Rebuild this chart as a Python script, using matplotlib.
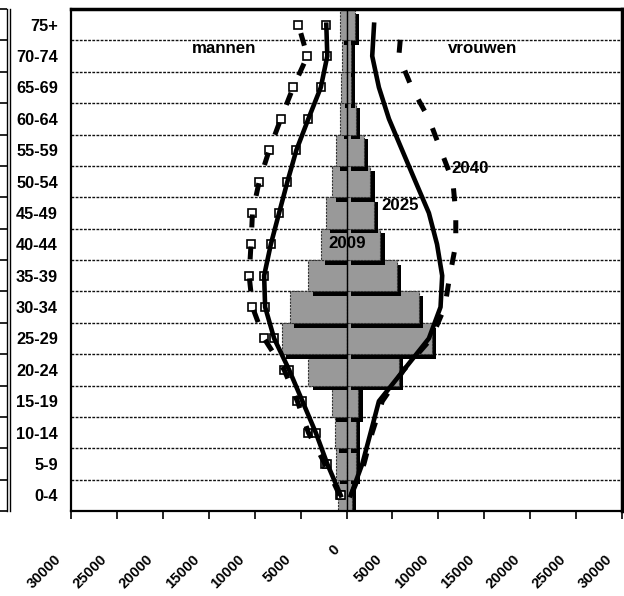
import numpy as np
import matplotlib
matplotlib.use("Agg")
import matplotlib.pyplot as plt
from matplotlib import patheffects, font_manager
from matplotlib.transforms import ScaledTranslation

# smal vet lettertype als het er is, anders Liberation Sans iets kleiner
namen = {f.name for f in font_manager.fontManager.ttflist}
if 'Liberation Sans Narrow' in namen:
    plt.rcParams['font.family'] = ['Liberation Sans Narrow', 'DejaVu Sans']
    schaal = 1.0
else:
    plt.rcParams['font.family'] = ['Liberation Sans', 'DejaVu Sans']
    schaal = 0.84
plt.rcParams['font.weight'] = 'bold'

# leeftijdsklassen, van onder naar boven
leeftijd = ['0-4', '5-9', '10-14', '15-19', '20-24', '25-29', '30-34', '35-39',
            '40-44', '45-49', '50-54', '55-59', '60-64', '65-69', '70-74', '75+']

# 2009 (balken)
mannen_2009 = [900, 1180, 1250, 1550, 4150, 7000, 6150, 4150, 2800, 2200, 1600, 1180, 700, 630, 450, 700]
vrouwen_2009 = [570, 1000, 1070, 1300, 5700, 9300, 7850, 5500, 3700, 3000, 2600, 1900, 1000, 450, 450, 900]

# 2025 (doorgetrokken lijn)
mannen_2025 = [630, 2090, 3350, 4800, 6250, 7880, 8860, 8970, 8240, 7340, 6430, 5460, 4150, 2800, 2090, 2200]
vrouwen_2025 = [460, 1720, 2630, 3530, 6250, 8970, 10240, 10420, 9860, 8970, 7510, 6060, 4620, 3530, 2800, 3000]

# 2040 (gestippelde lijn)
mannen_2040 = [740, 2340, 4150, 5350, 6790, 8970, 10240, 10600, 10400, 10240, 9510, 8420, 7150, 5810, 4260, 5240]
vrouwen_2040 = [500, 1900, 2800, 3900, 6250, 9240, 10700, 11250, 11900, 11900, 11580, 10270, 8970, 7100, 5700, 6000]

x_ticks = [-30000, -25000, -20000, -15000, -10000, -5000, 0, 5000, 10000, 15000, 20000, 25000, 30000]
x_labels = ['30000', '25000', '20000', '15000', '10000', '5000', '0',
            '5000', '10000', '15000', '20000', '25000', '30000']

W, H = 624, 596
fig = plt.figure(figsize=(W / 100, H / 100), dpi=100)
ax = fig.add_axes([71 / W, (H - 511) / H, (622 - 71) / W, (511 - 9) / H])

y = np.arange(len(leeftijd))

# balken 2009 met schaduw
schaduw = [patheffects.SimplePatchShadow(offset=(3, -3.5), shadow_rgbFace='black', alpha=1.0),
           patheffects.Normal()]
for waarden, teken in [(mannen_2009, -1), (vrouwen_2009, 1)]:
    bars = ax.barh(y, teken * np.array(waarden), height=1.0, color='#999999',
                   edgecolor='#333333', linewidth=0.8, linestyle=(0, (2, 1)), zorder=2)
    for p in bars:
        p.set_path_effects(schaduw)

# lijnen 2025 en 2040
ax.plot(-np.array(mannen_2040), y, ls='none', marker='s', ms=5.5, mfc='white', mec='black', mew=1.2, zorder=4)
ax.plot(-np.array(mannen_2025), y, ls='none', marker='s', ms=5.5, mfc='white', mec='black', mew=1.2, zorder=4)
ax.plot(-np.array(mannen_2025), y, color='black', lw=3.3, solid_joinstyle='round', zorder=5)
ax.plot(vrouwen_2025, y, color='black', lw=3.3, solid_joinstyle='round', zorder=5)
ax.plot(-np.array(mannen_2040), y, color='black', lw=3.6, ls=(0, (2.6, 3.8)), dash_capstyle='butt', zorder=5)
ax.plot(vrouwen_2040, y, color='black', lw=3.6, ls=(0, (2.6, 3.8)), dash_capstyle='butt', zorder=5)

ax.axvline(0, color='black', lw=1.0, zorder=3)

ax.set_xlim(-30000, 30000)
ax.set_ylim(-0.5, len(leeftijd) - 0.5)

# horizontale rasterlijnen op de klassegrenzen
ax.set_yticks(np.arange(-0.5, len(leeftijd)), minor=True)
ax.grid(which='minor', axis='y', color='#111111', lw=1.0, ls=(0, (2, 1)), zorder=1)
ax.tick_params(axis='y', which='both', length=0)
ax.set_yticks(y)
ax.set_yticklabels(leeftijd, fontsize=14 * schaal, fontweight='bold')
ax.tick_params(axis='y', pad=9.4)

ax.set_xticks(x_ticks)
ax.set_xticklabels(x_labels, fontsize=12.5 * schaal, fontweight='bold')
ax.tick_params(axis='x', direction='out', length=5.8, width=1.2, pad=27.4)
for lab in ax.get_xticklabels():
    lab.set_rotation(45)
    lab.set_ha('right')
    lab.set_va('center')
    lab.set_rotation_mode('anchor')
    dx, dy = (-9, 10) if lab.get_text() == '0' else (-12, 0)
    lab.set_transform(lab.get_transform() + ScaledTranslation(dx / 100, dy / 100, fig.dpi_scale_trans))

for kant in ['left', 'bottom']:
    ax.spines[kant].set_linestyle((0, (2, 1)))
    ax.spines[kant].set_linewidth(1.6)
for kant in ['top', 'right']:
    ax.spines[kant].set_linewidth(2.5)

tekst = dict(fontsize=14.5 * schaal, fontweight='bold', ha='center', va='center', zorder=6)
ax.text(-13370, 14.24, 'mannen', **tekst)
ax.text(14840, 14.24, 'vrouwen', **tekst)
ax.text(13420, 10.42, '2040', **tekst)
ax.text(5870, 9.24, '2025', **tekst)
ax.text(110, 8.01, '2009', **tekst)

# dubbele lijn met streepjes links
ax_l = fig.add_axes([7 / W, (H - 511) / H, 3 / W, (511 - 9) / H])
ax_l.set_ylim(-0.5, len(leeftijd) - 0.5)
ax_l.set_xticks([])
ax_l.set_yticks(np.arange(-0.5, len(leeftijd)))
ax_l.set_yticklabels([])
ax_l.tick_params(axis='y', direction='out', length=5, width=1.2)
for kant in ['top', 'bottom']:
    ax_l.spines[kant].set_visible(False)
for kant in ['left', 'right']:
    ax_l.spines[kant].set_linewidth(1.0)
ax_l.patch.set_alpha(0)

fig.savefig('out.png', dpi=100)
